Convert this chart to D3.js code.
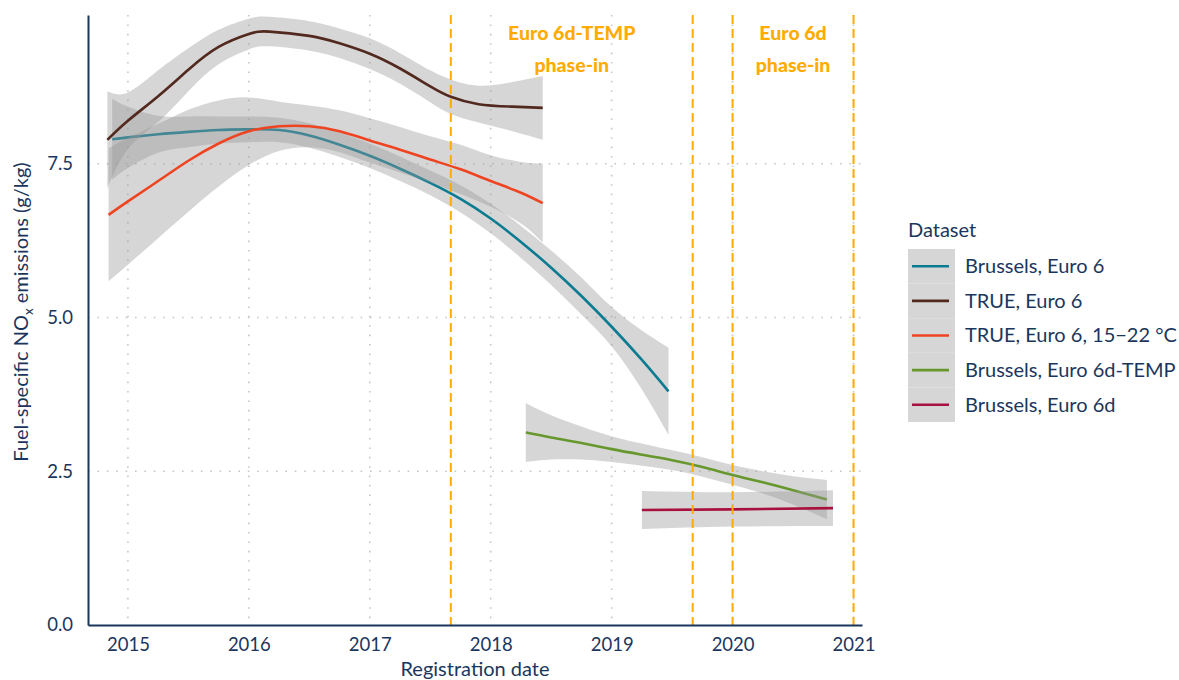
<!DOCTYPE html>
<html>
<head>
<meta charset="utf-8">
<script src="https://cdn.jsdelivr.net/npm/d3@7"></script>
<style>
  body { margin: 0; background: #fff; }
  svg { display: block; font-family: Lato, "Open Sans", sans-serif; }
</style>
</head>
<body>
<div id="chart"></div>
<script>
// Smoothed fits (decimal registration year, g/kg)
var seriesNames = ["Brussels, Euro 6", "TRUE, Euro 6", "TRUE, Euro 6, 15\u221222 \u00b0C", "Brussels, Euro 6d-TEMP", "Brussels, Euro 6d"];
var seriesColors = ["#0b7b91", "#52291f", "#ee4422", "#66982e", "#a8113f"];

var brusselsE6Years = [2014.87, 2015.0, 2015.25, 2015.5, 2015.75, 2016.0, 2016.25, 2016.5, 2016.75, 2017.0, 2017.25, 2017.5, 2017.75, 2018.0, 2018.25, 2018.5, 2018.75, 2019.0, 2019.25, 2019.47];
var brusselsE6Fit = [7.90, 7.93, 7.98, 8.02, 8.05, 8.06, 8.05, 7.96, 7.81, 7.63, 7.42, 7.19, 6.93, 6.61, 6.23, 5.81, 5.35, 4.85, 4.31, 3.80];
var brusselsE6Band = [0.66, 0.50, 0.30, 0.25, 0.22, 0.21, 0.20, 0.20, 0.20, 0.20, 0.20, 0.20, 0.22, 0.24, 0.26, 0.28, 0.30, 0.32, 0.48, 0.71];

var trueE6Years = [2014.83, 2015.0, 2015.25, 2015.5, 2015.75, 2016.0, 2016.17, 2016.5, 2016.75, 2017.0, 2017.25, 2017.5, 2017.67, 2017.9, 2018.18, 2018.43];
var trueE6Fit = [7.89, 8.20, 8.60, 9.03, 9.40, 9.61, 9.65, 9.58, 9.46, 9.29, 9.05, 8.76, 8.59, 8.47, 8.43, 8.41];
var trueE6Band = [0.79, 0.46, 0.42, 0.35, 0.28, 0.25, 0.24, 0.24, 0.24, 0.25, 0.25, 0.26, 0.28, 0.30, 0.40, 0.52];

var trueTempYears = [2014.84, 2015.0, 2015.25, 2015.5, 2015.75, 2016.0, 2016.25, 2016.5, 2016.75, 2017.0, 2017.25, 2017.5, 2017.75, 2018.0, 2018.25, 2018.43];
var trueTempFit = [6.67, 6.89, 7.22, 7.55, 7.83, 8.03, 8.11, 8.11, 8.03, 7.88, 7.73, 7.57, 7.41, 7.22, 7.03, 6.86];
var trueTempBand = [1.08, 1.03, 0.93, 0.83, 0.70, 0.55, 0.40, 0.34, 0.34, 0.36, 0.37, 0.38, 0.40, 0.42, 0.50, 0.64];

var brusselsTempYears = [2018.29, 2018.5, 2018.75, 2019.0, 2019.25, 2019.5, 2019.75, 2020.0, 2020.25, 2020.5, 2020.78];
var brusselsTempFit = [3.13, 3.05, 2.96, 2.86, 2.77, 2.68, 2.57, 2.44, 2.32, 2.19, 2.04];
var brusselsTempBand = [0.48, 0.36, 0.27, 0.21, 0.18, 0.16, 0.16, 0.16, 0.18, 0.23, 0.32];

var brussels6dYears = [2019.25, 2020.0, 2020.83];
var brussels6dFit = [1.87, 1.88, 1.90];
var brussels6dBand = [0.31, 0.28, 0.29];

var xTicks = [2015, 2016, 2017, 2018, 2019, 2020, 2021];
var yTicks = [0, 2.5, 5, 7.5];
var phaseLines = [2017.67, 2019.67, 2020.0, 2021.0];
var phaseLabels = [["Euro 6d-TEMP", "phase-in", 2017.67, 2019.67], ["Euro 6d", "phase-in", 2020.0, 2021.0]];

var navy = "#1b365d";
var amber = "#ffab00";

var svg = d3.select("#chart").append("svg").attr("width", 1179).attr("height", 680);

var x = d3.scaleLinear().domain([2014.67, 2021.07]).range([88, 862]);
var y = d3.scaleLinear().domain([0, 9.92]).range([625, 15]);

// dotted grid
var grid = svg.append("g").attr("stroke", "#c6c6c6").attr("stroke-width", 1.6).attr("stroke-dasharray", "1.6,7.8");
grid.selectAll(".gx").data(xTicks).enter().append("line")
  .attr("x1", d => x(d)).attr("x2", d => x(d)).attr("y1", 15).attr("y2", 625);
grid.selectAll(".gy").data(yTicks.filter(d => d > 0)).enter().append("line")
  .attr("x1", 88).attr("x2", 862).attr("y1", d => y(d)).attr("y2", d => y(d));

// smoothed series with confidence ribbons
var series = [
  [brusselsE6Years, brusselsE6Fit, brusselsE6Band],
  [trueE6Years, trueE6Fit, trueE6Band],
  [trueTempYears, trueTempFit, trueTempBand],
  [brusselsTempYears, brusselsTempFit, brusselsTempBand],
  [brussels6dYears, brussels6dFit, brussels6dBand]
];

var curve = d3.curveNatural;
var area = d3.area().x(d => x(d.yr)).y0(d => y(d.v - d.b)).y1(d => y(d.v + d.b)).curve(curve);
var line = d3.line().x(d => x(d.yr)).y(d => y(d.v)).curve(curve);

series.forEach(function (s, i) {
  var pts = s[0].map((yr, j) => ({ yr: yr, v: s[1][j], b: s[2][j] }));
  svg.append("path").datum(pts).attr("d", area).attr("fill", "#999999").attr("fill-opacity", 0.4);
  svg.append("path").datum(pts).attr("d", line).attr("fill", "none")
    .attr("stroke", seriesColors[i]).attr("stroke-width", 2.6);
});

// phase-in markers
svg.selectAll(".phase").data(phaseLines).enter().append("line")
  .attr("x1", d => x(d)).attr("x2", d => x(d)).attr("y1", 15).attr("y2", 625)
  .attr("stroke", amber).attr("stroke-width", 2).attr("stroke-dasharray", "9,5");

phaseLabels.forEach(function (p) {
  var cx = (x(p[2]) + x(p[3])) / 2;
  var t = svg.append("text").attr("text-anchor", "middle").attr("fill", amber)
    .attr("font-weight", 900).attr("font-size", 19.5);
  t.append("tspan").attr("x", cx).attr("y", 40).text(p[0]);
  t.append("tspan").attr("x", cx).attr("y", 72).text(p[1]);
});

// axes
var xAxis = svg.append("g").attr("transform", "translate(0,625)")
  .call(d3.axisBottom(x).tickValues(xTicks).tickFormat(d3.format("d")).tickSize(0).tickPadding(13));
var yAxis = svg.append("g").attr("transform", "translate(88,0)")
  .call(d3.axisLeft(y).tickValues(yTicks).tickFormat(d3.format(".1f")).tickSize(0).tickPadding(15));
[xAxis, yAxis].forEach(function (a) {
  a.select(".domain").attr("stroke", navy).attr("stroke-width", 2);
  a.selectAll("text").attr("fill", navy).attr("font-size", 18.5).attr("font-family", "Lato, sans-serif");
});

svg.append("text").attr("x", 475).attr("y", 676).attr("text-anchor", "middle")
  .attr("fill", navy).attr("font-size", 20).text("Registration date");

var yl = svg.append("text").attr("transform", "translate(28,312) rotate(-90)")
  .attr("text-anchor", "middle").attr("fill", navy).attr("font-size", 20);
yl.append("tspan").text("Fuel-specific NO");
yl.append("tspan").attr("font-size", 13.5).attr("dy", 5).text("x");
yl.append("tspan").attr("dy", -5).text(" emissions (g/kg)");

// legend
var legend = svg.append("g");
legend.append("text").attr("x", 908).attr("y", 237).attr("fill", navy).attr("font-size", 20).text("Dataset");
var rows = legend.selectAll(".row").data(seriesNames).enter().append("g")
  .attr("transform", (d, i) => "translate(908," + (249 + i * 34.6) + ")");
rows.append("rect").attr("width", 47).attr("height", 34.6).attr("fill", "#d6d6d6");
rows.append("line").attr("x1", 4).attr("x2", 41).attr("y1", 17.3).attr("y2", 17.3)
  .attr("stroke", (d, i) => seriesColors[i]).attr("stroke-width", 2.6);
rows.append("text").attr("x", 57).attr("y", 17.3).attr("dy", "0.35em")
  .attr("fill", navy).attr("font-size", 20).text(d => d);
</script>
</body>
</html>
